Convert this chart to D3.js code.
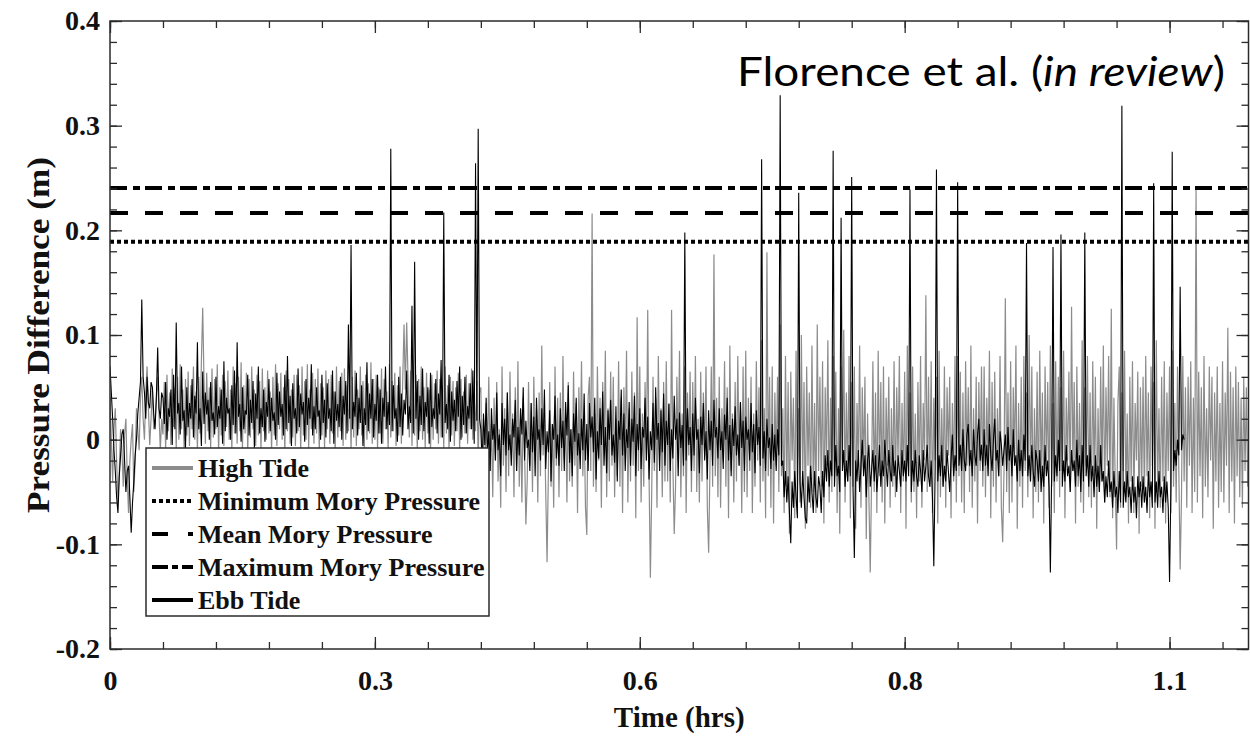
<!DOCTYPE html>
<html>
<head>
<meta charset="utf-8">
<script src="https://cdn.jsdelivr.net/npm/d3@7"></script>
<style>
	body { margin: 0; background: #fff; }
	svg text { font-family: "Liberation Serif", "Times New Roman", serif; font-weight: bold; fill: #111; }
	.axis line { stroke: #2b2b2b; stroke-width: 1.3px; }
	.axis path { display: none; }
</style>
</head>
<body>
<div id="chart"></div>
<script>
// time between samples, seconds
const sampleStepSec = 5;

// Ebb tide pressure difference, mm, one value per 5 s
const ebbTideMm = [
	70, 45, 20, -10, -30, -55, -70, -35, -15, 5, 10, -20, -50, -30, -25, -55, -89, -60, -40, -15,
	0, 25, 40, 55, 134, 60, 45, 20, 60, 35, 30, 55, 50, 25, 10, 40, 88, 30, 20, 45,
	40, 15, 55, 0, 30, 22, 48, -5, 62, 10, 112, 25, 35, 5, 70, 18, 28, -8, 50, 12,
	35, 20, 58, 2, 42, 25, 93, 10, 30, -6, 65, 15, 45, 24, 38, 0, 55, 18, 26, 5,
	60, 12, 32, 20, 48, -4, 75, 8, 40, 25, 30, 0, 52, 14, 66, 6, 93, 22, 34, -2,
	50, 10, 28, 24, 62, 4, 38, 16, 56, -8, 44, 20, 70, 6, 30, 12, 48, -2, 36, 22,
	58, 8, 40, 18, 26, 0, 64, 14, 46, 22, 34, 4, 62, 10, 80, 16, 42, -6, 54, 20,
	30, 6, 68, 12, 44, 24, 36, -2, 58, 14, 40, 20, 72, 4, 32, 10, 50, 22, 28, 0,
	62, 16, 38, 2, 54, 20, 30, 8, 66, -4, 46, 18, 34, 12, 60, 0, 42, 24, 56, 6,
	110, 20, 186, 10, 36, 22, 64, 4, 40, 16, 52, -6, 30, 14, 74, 8, 44, 20, 58, 2,
	34, 18, 62, 6, 48, -4, 40, 22, 70, 10, 36, 14, 278, 8, 52, 20, 30, -2, 60, 12,
	44, 4, 38, 24, 66, 10, 32, 16, 128, 6, 170, 20, 56, 0, 42, 14, 68, 8, 36, 22,
	50, -4, 64, 12, 30, 20, 58, 6, 44, 24, 76, 2, 217, 16, 34, 10, 62, -2, 46, 18,
	38, 8, 56, 22, 70, 0, 42, 14, 60, 6, 32, 20, 54, 10, 66, -4, 264, 18, 297, 20,
	10, -25, 25, -5, 40, -15, 8, -30, 30, 0, 15, -20, 45, -10, 5, -35, 35, -5, 20, -15,
	45, -10, 5, -25, 20, 2, 38, -30, 12, -15, 30, 5, 50, -20, 18, -8, 0, -30, 35, -12,
	22, -35, 40, 0, 10, -20, 30, -5, 48, -28, 8, -12, 28, -40, 15, 0, 42, -18, 5, -25,
	30, -8, 18, -30, 36, 4, 52, -22, 10, -35, 25, -2, 40, -15, 6, -28, 20, -10, 44, -20,
	15, -30, 35, 2, 22, -12, 40, -38, 8, -18, 30, -5, 46, -25, 12, -32, 28, 0, 38, -15,
	5, -22, 32, -40, 18, 0, 48, -15, 25, -30, 10, -8, 36, -25, 20, -2, 42, -35, 15, -10,
	30, -28, 12, 2, 40, -20, 22, -38, 8, -10, 35, -22, 50, 0, 16, -30, 28, -12, 44, -25,
	18, -5, 34, -30, 10, -18, 42, 0, 20, -35, 26, -8, 14, -25, 198, -20, 30, -5, 12, -30,
	25, -15, 40, 0, 10, -32, 22, -5, 35, -20, 8, -38, 28, -10, 18, -25, 38, 2, 12, -18,
	30, -10, 8, -28, 24, 0, 40, -20, 14, -35, 20, -6, 32, -15, 5, -25, 36, -8, 18, -30,
	22, 0, 10, -20, 35, -12, 15, -32, 28, -5, 12, -25, 268, -18, 8, -30, 20, -8, 2, -28,
	15, -20, 5, -30, 10, -15, 329, -25, -20, -55, -30, -60, -35, -70, -99, -40, -65, -30, -55, -75,
	236, -40, -65, -30, -55, -75, -80, -35, -60, -25, -50, -70, -30, -55, -65, -35, -45, -70, -30, -55,
	-15, -40, -10, -45, -20, -35, 276, -45, -5, -35, -25, -50, 212, -30, -10, -45, -20, -40, -5, -35,
	251, -45, -113, -20, -40, -10, -50, -25, 0, -35, -15, -55, -20, -5, -45, -30, -10, -40, -15, -50,
	-30, -5, -45, -20, -35, 0, -25, -45, -10, -30, -40, -5, -35, -20, -50, -15, -30, -45, -10, -35,
	-20, -40, -5, -35, 239, -50, -20, -40, -10, -35, -45, -15, -30, -50, -10, -40, -25, -5, -35, -45,
	-20, -55, -121, -30, 258, -40, -15, -35, -5, -45, -25, -40, -10, -30, -50, -20, 5, -35, -15, -30,
	246, -25, -5, -30, 10, -20, -30, 5, 15, -25, -10, -35, 10, -15, -25, 5, 20, -20, -5, -30,
	10, -25, -5, -35, 15, -15, -30, 0, 20, -20, -10, -35, 8, -5, -25, -10, 5, -30, 12, -20,
	-5, -35, 10, -25, -15, -40, 0, -30, -10, -35, 5, -20, 188, -35, -15, -40, -5, -30, -45, -10,
	-20, -40, -10, -50, -25, -45, -5, -35, -20, -45, -127, -30, 184, -40, -15, -35, 0, -30, 196, -45,
	-20, -40, -5, -35, -25, -50, -10, -30, -20, -45, 0, -35, -15, -50, -5, -40, 198, -35, -15, -45,
	-5, -40, -25, -55, -15, -45, -25, -50, -5, -40, -30, -60, -35, -55, -20, -50, -40, -65, -30, -55,
	-45, -70, -30, -60, 319, -65, -40, -60, -30, -55, -45, -70, -35, -60, -45, -75, -35, -55, -40, -65,
	-35, -60, -45, -70, -30, -55, -40, -65, 245, -60, -40, -65, -30, -55, -45, -70, -35, -60, -40, -65,
	-136, -45, 275, -30, -10, -25, 0, -15, 146, -10, 5, 0
];

// High tide pressure difference, mm, one value per 5 s
const highTideMm = [
	40, 0, -40, 10, 30, -20, -60, -30, 10, -10, -45, 5, 20, -35, -70, -20, 0, 15, -50, -20,
	30, 10, -10, 40, 60, 20, 0, 45, 70, 30, -5, 20, 50, 10, 15, 40, 60, 25, -10, 20,
	5, 55, -10, 62, 8, 45, -5, 68, 12, 50, -8, 60, 0, 72, 10, 48, -12, 58, 4, 65,
	-6, 52, 10, 70, 0, 46, -10, 60, 6, 75, 126, 55, -4, 64, 8, 50, -8, 68, 2, 58,
	10, 72, -12, 50, 4, 62, -6, 56, 12, 66, 0, 48, -10, 70, 6, 54, -4, 60, 8, 74,
	-8, 52, 6, 64, -12, 58, 2, 70, 10, 48, -6, 62, 4, 56, -10, 68, 8, 50, 0, 66,
	6, 46, -10, 60, 4, 72, -6, 54, 10, 64, 0, 50, -12, 66, 8, 58, -4, 48, 2, 62,
	-6, 62, 8, 52, -10, 70, 4, 56, 0, 72, -8, 48, 10, 64, -4, 58, 6, 68, -12, 54,
	4, 50, -8, 66, 10, 58, -4, 62, 6, 46, -12, 70, 2, 56, 8, 64, -6, 68, 0, 52,
	8, 52, -10, 60, 2, 66, -6, 48, 10, 70, 4, 56, -8, 62, 0, 54, 6, 74, -4, 58,
	0, 62, -8, 50, 6, 68, -4, 58, 10, 46, -10, 72, 2, 56, 8, 64, -6, 52, 4, 70,
	-4, 56, 110, 48, 112, 60, 2, 66, -6, 52, 4, 62, -10, 58, 8, 70, 0, 50, -8, 64,
	6, 48, -12, 62, 0, 54, 10, 66, -4, 58, 2, 44, -8, 70, 6, 52, -10, 60, 4, 56,
	-6, 50, 8, 64, -10, 58, 2, 46, 6, 62, -4, 54, 10, 68, 0, 40, 8, 56, -20, 45,
	50, -45, 20, -60, 35, -10, 60, -30, 15, -55, 40, -20, 55, -40, 10, -65, 70, -25, 30, -50,
	45, -35, 65, -15, 25, -55, 50, -30, 75, -45, 20, -60, 40, -10, -81, -40, 55, -25, 35, -50,
	60, -20, 30, -60, 45, -35, 90, -15, 20, -50, -117, -30, 55, -45, 15, -65, 70, -25, 40, -55,
	45, -30, 80, -20, 25, -60, 55, -40, 10, -45, 65, -25, 35, -70, 50, -15, 75, -35, 20, -65,
	-91, 40, 60, -30, 216, -45, 25, -50, 70, -20, 40, -65, 55, -10, 85, -55, 30, -40, 65, -25,
	60, -55, 20, -35, 75, -45, 40, -70, 50, -15, 85, -60, 30, -40, 65, -25, 45, -75, 117, -30,
	70, -60, 25, -45, 55, -20, 124, -35, -132, -50, 60, -30, 40, -65, 80, -15, 30, -55, 55, -40,
	75, -40, 35, -60, 124, -25, -90, -45, 60, -20, 85, -55, 25, -35, 70, -70, 45, -15, 65, -50,
	55, -30, 80, -50, 20, -60, 65, -40, 45, -15, 70, -65, -108, -25, 70, -45, 177, -35, 40, -55,
	60, -65, 30, -20, 75, -45, 50, -75, 90, -30, 25, -60, 55, -40, 80, -25, 35, -70, 70, -50,
	85, -55, 40, -30, 60, -70, 25, -45, 75, -20, 50, -60, 95, -40, 30, -75, 179, -35, 60, -65,
	70, -80, 45, -25, 60, -50, 110, -35, 30, -70, 80, -45, 55, -90, 65, -20, 40, -75, 85, -55,
	30, -60, 100, -40, 55, -85, 70, -25, 45, -65, 90, -50, 35, -70, 110, -30, 60, -45, 75, -80,
	50, -25, 95, -60, 40, -50, 80, -35, 65, -70, 30, -90, 70, -20, 105, -60, 45, -40, 80, -75,
	55, -45, 70, -85, 35, -25, 90, -65, 50, -30, 60, -95, 25, -55, -127, -40, 75, -50, 45, -70,
	85, -35, 55, -60, 70, -80, 40, -25, 60, -65, 30, -45, 75, -55, 50, -20, 80, -70, 35, -40,
	65, -85, 90, -30, 45, -60, 70, -50, 25, -75, 55, -40, 80, -65, 35, -20, 138, -50, 60, -45,
	75, -70, 40, -20, 60, -80, 85, -55, 30, -45, 70, -65, 50, -15, 60, -75, 35, -40, 80, -60,
	80, -35, 65, -60, 45, -70, 75, -25, 50, -50, 90, -65, 30, -40, 60, -80, 55, -30, 70, -45,
	70, -55, 40, -25, 85, -75, 55, -45, 65, -60, 30, -35, 80, -65, -98, -30, 135, -50, 45, -70,
	75, -60, 50, -20, 90, -85, 35, -45, 60, -65, 80, -30, 45, -55, 100, -40, 70, -75, 30, -50,
	65, -60, 85, -35, 45, -80, 70, -25, 55, -65, 90, -45, 35, -70, 75, -40, 60, -55, 50, -30,
	85, -75, 40, -20, 65, -50, 127, -30, 55, -80, 70, -45, 35, -60, 95, -70, 50, -25, 80, -55,
	45, -65, 75, -35, 60, -85, 30, -50, 70, -40, 90, -60, 50, -25, 80, -55, 125, -75, 40, -45,
	-105, 35, 70, -65, 45, -30, 85, -55, 25, -80, 60, -40, 75, -70, 35, -20, 65, -90, 50, -45,
	60, -60, 80, -35, 45, -75, 70, -25, 55, -85, 95, -50, 30, -65, 60, -40, 75, -80, 45, -30,
	70, -70, 85, -45, 35, -60, 70, -30, -124, -55, 80, -40, 50, -65, 60, -25, 75, -70, 40, -50,
	239, -60, 65, -35, 50, -75, 80, -45, 30, -55, 70, -20, 60, -85, 45, -40, 70, -65, 35, -50,
	75, -60, 45, -25, 107, -70, 65, -40, 50, -80, 70, -35, 55, -55, 40, -65, 60, -30, 50, -45
];

// Mory pressure thresholds (m)
const moryNames = ["Minimum Mory Pressure", "Mean Mory Pressure", "Maximum Mory Pressure"];
const moryLevels = [0.189, 0.2166, 0.2405];
const moryDashes = ["4,3", "18,17", "17,6,7,5"];
const moryLegendDashes = ["4,3", "16,20", "16,4,6,4"];

// axis ticks
const xTickSeconds = [0, 1000, 2000, 3000, 4000];
const xTickLabels = ["0", "0.3", "0.6", "0.8", "1.1"];
const yTicks = [-0.2, -0.1, 0, 0.1, 0.2, 0.3, 0.4];
const yTickLabels = ["-0.2", "-0.1", "0", "0.1", "0.2", "0.3", "0.4"];

const chartWidth = 1250, chartHeight = 736;
const plotLeft = 110, plotRight = 1248.5, plotTop = 21, plotBottom = 649;

const svg = d3.select("#chart")
	.append("svg")
	.attr("width", chartWidth)
	.attr("height", chartHeight);

let x = d3.scaleLinear().domain([0, 4298]).range([plotLeft, plotRight]);
let y = d3.scaleLinear().domain([-0.2, 0.4]).range([plotBottom, plotTop]);

svg.append("clipPath")
	.attr("id", "plot-clip")
	.append("rect")
	.attr("x", plotLeft).attr("y", plotTop)
	.attr("width", plotRight - plotLeft).attr("height", plotBottom - plotTop);

let line = d3.line()
	.x((d, i) => x(i * sampleStepSec))
	.y(d => y(d / 1000));

let plot = svg.append("g").attr("clip-path", "url(#plot-clip)");

plot.append("path")
	.attr("d", line(highTideMm))
	.style("stroke", "#8c8c8c")
	.style("stroke-width", "1.2px")
	.style("fill", "none");

plot.append("path")
	.attr("d", line(ebbTideMm))
	.style("stroke", "#000")
	.style("stroke-width", "1.1px")
	.style("fill", "none");

plot.selectAll("line.mory")
	.data(moryLevels)
	.enter().append("line")
	.attr("class", "mory")
	.attr("x1", plotLeft)
	.attr("x2", plotRight)
	.attr("y1", d => y(d))
	.attr("y2", d => y(d))
	.style("stroke", "#000")
	.style("stroke-width", "4px")
	.style("stroke-dasharray", (d, i) => moryDashes[i]);

// axes, ticks pointing inward on all four sides
let xMinor = d3.range(0, 4298, 200);
let yMinor = d3.range(-0.2, 0.4001, 0.02);

svg.append("g").attr("class", "axis")
	.attr("transform", "translate(0," + plotBottom + ")")
	.call(d3.axisBottom(x).tickValues(xMinor).tickFormat("").tickSizeInner(-7).tickSizeOuter(0));
svg.append("g").attr("class", "axis x-major")
	.attr("transform", "translate(0," + plotBottom + ")")
	.call(d3.axisBottom(x).tickValues(xTickSeconds).tickFormat((d, i) => xTickLabels[i])
		.tickSizeInner(-12).tickSizeOuter(0).tickPadding(21));
svg.append("g").attr("class", "axis")
	.attr("transform", "translate(0," + plotTop + ")")
	.call(d3.axisTop(x).tickValues(xMinor).tickFormat("").tickSizeInner(-7).tickSizeOuter(0));
svg.append("g").attr("class", "axis")
	.attr("transform", "translate(0," + plotTop + ")")
	.call(d3.axisTop(x).tickValues(xTickSeconds).tickFormat("").tickSizeInner(-12).tickSizeOuter(0));

svg.append("g").attr("class", "axis")
	.attr("transform", "translate(" + plotLeft + ",0)")
	.call(d3.axisLeft(y).tickValues(yMinor).tickFormat("").tickSizeInner(-7).tickSizeOuter(0));
svg.append("g").attr("class", "axis y-major")
	.attr("transform", "translate(" + plotLeft + ",0)")
	.call(d3.axisLeft(y).tickValues(yTicks).tickFormat((d, i) => yTickLabels[i])
		.tickSizeInner(-12).tickSizeOuter(0).tickPadding(10));
svg.append("g").attr("class", "axis")
	.attr("transform", "translate(" + plotRight + ",0)")
	.call(d3.axisRight(y).tickValues(yMinor).tickFormat("").tickSizeInner(-7).tickSizeOuter(0));
svg.append("g").attr("class", "axis")
	.attr("transform", "translate(" + plotRight + ",0)")
	.call(d3.axisRight(y).tickValues(yTicks).tickFormat("").tickSizeInner(-12).tickSizeOuter(0));

svg.selectAll(".x-major text, .y-major text")
	.style("font-size", "28px")
	.style("font-family", "'Liberation Serif', 'Times New Roman', serif")
	.style("font-weight", "bold")
	.style("fill", "#111");

svg.append("rect")
	.attr("x", plotLeft).attr("y", plotTop)
	.attr("width", plotRight - plotLeft).attr("height", plotBottom - plotTop)
	.style("fill", "none")
	.style("stroke", "#2b2b2b")
	.style("stroke-width", "1.5px");

// axis titles
svg.append("text")
	.attr("x", (plotLeft + plotRight) / 2)
	.attr("y", 727)
	.attr("text-anchor", "middle")
	.style("font-size", "29px")
	.text("Time (hrs)");

svg.append("text")
	.attr("transform", "translate(49,335) rotate(-90)")
	.attr("text-anchor", "middle")
	.attr("textLength", 356)
	.attr("lengthAdjust", "spacingAndGlyphs")
	.style("font-size", "31px")
	.text("Pressure Difference (m)");

// citation
let cite = svg.append("text")
	.attr("x", 1225)
	.attr("y", 86)
	.attr("text-anchor", "end")
	.attr("textLength", 488)
	.attr("lengthAdjust", "spacingAndGlyphs")
	.style("font-family", "Lato, 'Open Sans', sans-serif")
	.style("font-weight", "normal")
	.style("font-size", "40px")
	.style("fill", "#000");
cite.append("tspan").text("Florence et al. (");
cite.append("tspan").style("font-style", "italic").text("in review");
cite.append("tspan").text(")");

// legend
let legendItems = [
	{name: "High Tide", color: "#8c8c8c", dash: null},
	{name: moryNames[0], color: "#000", dash: moryLegendDashes[0]},
	{name: moryNames[1], color: "#000", dash: moryLegendDashes[1]},
	{name: moryNames[2], color: "#000", dash: moryLegendDashes[2]},
	{name: "Ebb Tide", color: "#000", dash: null}
];

let legend = svg.append("g");
legend.append("rect")
	.attr("x", 146).attr("y", 448)
	.attr("width", 343).attr("height", 168)
	.style("fill", "#fff")
	.style("stroke", "#2b2b2b")
	.style("stroke-width", "1.5px");

let rowY = d3.scaleLinear().domain([0, 4]).range([468, 600]);

legend.selectAll("line.key")
	.data(legendItems)
	.enter().append("line")
	.attr("class", "key")
	.attr("x1", 152).attr("x2", 193)
	.attr("y1", (d, i) => rowY(i)).attr("y2", (d, i) => rowY(i))
	.style("stroke", d => d.color)
	.style("stroke-width", "4px")
	.style("stroke-dasharray", d => d.dash);

legend.selectAll("text.key")
	.data(legendItems)
	.enter().append("text")
	.attr("class", "key")
	.attr("x", 198)
	.attr("y", (d, i) => rowY(i) + 9)
	.style("font-size", "26px")
	.text(d => d.name);
</script>
</body>
</html>
